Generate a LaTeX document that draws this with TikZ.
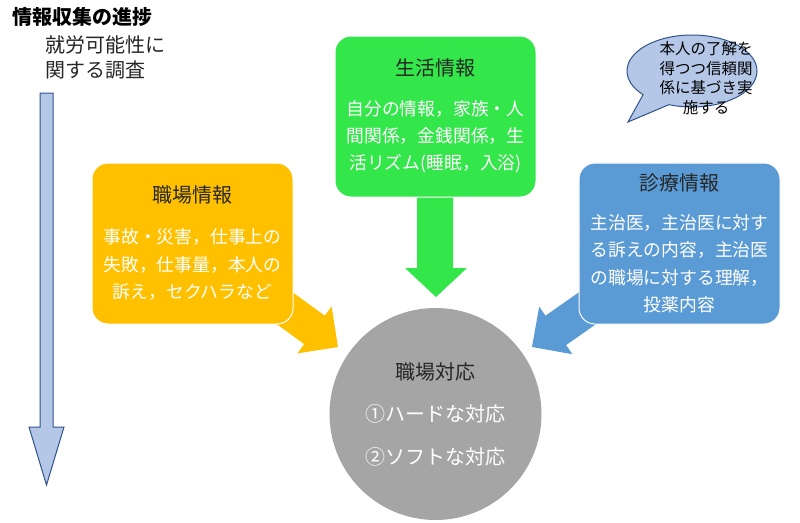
\documentclass[tikz,border=0pt]{standalone}
\usepackage{fontspec}
\setmainfont{Noto Sans CJK JP}
\usetikzlibrary{shapes.callouts,backgrounds}
\definecolor{orangebox}{HTML}{FFC000}
\definecolor{greenbox}{HTML}{33E64A}
\definecolor{bluebox}{HTML}{5B9BD5}
\definecolor{graycirc}{HTML}{A5A5A5}
\definecolor{lightblue}{HTML}{B4C7E7}
\definecolor{darkblue}{HTML}{2F528F}
\definecolor{darktext}{HTML}{262626}
\begin{document}
\begin{tikzpicture}[x=1pt,y=-1pt,
  infobox/.style={draw=white,line width=1pt,rounded corners=16pt,minimum width=201pt,minimum height=161pt,inner sep=0pt},
  boxtitle/.style={text=darktext,font=\fontsize{20pt}{24pt}\selectfont,inner sep=0pt},
  boxbody/.style={text=white,align=center,font=\fontsize{17.8pt}{27.4pt}\selectfont,inner sep=0pt},
  circtitle/.style={text=darktext,font=\fontsize{20pt}{24pt}\selectfont,inner sep=0pt},
  circitem/.style={text=white,font=\fontsize{20pt}{24pt}\selectfont,inner sep=0pt},
  blockarrow/.style={draw=none},
  headtext/.style={anchor=west,inner sep=0pt,text=black,font=\fontsize{20pt}{25pt}\selectfont},
  bubbletext/.style={text=black,align=center,font=\fontsize{15.5pt}{19.6pt}\selectfont,inner sep=0pt}]
\useasboundingbox (0,0) rectangle (800,522);

% title texts
\node[headtext,font=\fontsize{20pt}{25pt}\selectfont\bfseries] (title) at (12,17) {情報収集の進捗};
\node[headtext,text=darktext] (sub1) at (45,45) {就労可能性に};
\node[headtext,text=darktext] (sub2) at (45,70) {関する調査};

% progress arrow
\fill[lightblue,draw=darkblue,line width=1pt,line join=miter]
  (40,93) -- (53,93) -- (53,427) -- (64,427) -- (46.5,485) -- (29,427) -- (40,427) -- cycle;

% boxes
\node[infobox,fill=orangebox] (work) at (192.5,243.5) {};
\node[infobox,fill=greenbox] (life) at (435.5,116.5) {};
\node[infobox,fill=bluebox] (med) at (679.5,243.5) {};

\node[boxtitle] (workT) at (192.5,195) {職場情報};
\node[boxbody] (workB) at (192.5,264.7) {事故・災害，仕事上の\\失敗，仕事量，本人の\\訴え，セクハラなど};

\node[boxtitle] (lifeT) at (435.5,68) {生活情報};
\node[boxbody] (lifeB) at (435.5,136.7) {自分の情報，家族・人\\間関係，金銭関係，生\\活リズム(睡眠，入浴)};

\node[boxtitle] (medT) at (679.5,183) {診療情報};
\node[boxbody] (medB) at (679.5,263.8) {主治医，主治医に対す\\る訴えの内容，主治医\\の職場に対する理解，\\投薬内容};

% response circle
\node[circle,fill=graycirc,minimum size=212pt,inner sep=0pt] (resp) at (435.5,414) {};
\node[circtitle] (respT) at (435.5,372) {職場対応};
\node[circitem] (resp1) at (435.5,414) {①ハードな対応};
\node[circitem] (resp2) at (435.5,457) {②ソフトな対応};

% speech bubble
\node[ellipse callout,draw=darkblue,fill=lightblue,line width=1pt,minimum width=130pt,minimum height=72pt,inner sep=0pt,
  callout absolute pointer={(628,122)},callout pointer arc=28] (bubble) at (692,71) {};
\node[bubbletext] (bubbleT) at (706,78) {本人の了解を\\得つつ信頼関\\係に基づき実\\施する};

% block arrows behind the boxes
\begin{pgfonlayer}{background}
\fill[orangebox] (268.2,274.5) -- (324.8,315.7) -- (331.6,306.4) -- (338,347) -- (297.4,353.4) -- (304.2,344.1) -- (247.6,302.9) -- cycle;
\fill[greenbox] (417,185) -- (453,185) -- (453,268) -- (467,268) -- (436,297) -- (405,268) -- (417,268) -- cycle;
\fill[bluebox] (602.8,275.5) -- (545.5,315.7) -- (539.2,306.6) -- (532,347) -- (572.4,354.2) -- (566.1,345.1) -- (623.4,304.9) -- cycle;
\end{pgfonlayer}
\end{tikzpicture}
\end{document}
